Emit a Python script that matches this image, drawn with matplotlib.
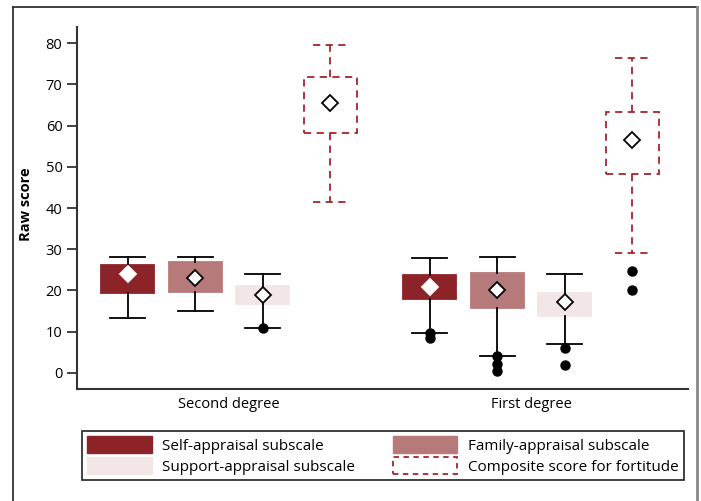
import matplotlib
matplotlib.use("Agg")
import matplotlib.pyplot as plt
from matplotlib.patches import Patch
from matplotlib.lines import Line2D

plt.rcParams['font.family'] = ['Open Sans', 'DejaVu Sans']

# Veriler (grafikten okunan tahmini değerler)
groups = ["Second degree", "First degree"]
series = ["Self-appraisal subscale", "Family-appraisal subscale",
          "Support-appraisal subscale", "Composite score for fortitude"]

# her kutu: [alt bıyık, Q1, Q3, üst bıyık, ortalama]
second_deg = [
    [13.2, 19.5, 26.1, 28.0, 23.9],
    [15.0, 19.7, 26.8, 28.0, 23.0],
    [11.0, 16.8, 21.1, 24.0, 19.0],
    [41.5, 58.3, 71.7, 79.6, 65.5],
]
first_deg = [
    [9.8, 18.0, 23.7, 27.8, 20.9],
    [4.0, 15.8, 24.2, 28.0, 20.1],
    [7.0, 13.7, 19.4, 23.9, 17.3],
    [29.2, 48.3, 63.2, 76.3, 56.5],
]
second_out = [[], [], [11.0], []]
first_out = [[9.6, 8.4], [4.0, 2.2, 0.4], [6.0, 1.9], [24.8, 20.1]]

colors = ["#8B2328", "#B77A7A", "#F2E6E6", "white"]
comp_color = "#A3262C"

fig = plt.figure(figsize=(7.01, 5.01), dpi=100)
ax = fig.add_axes([77/701, 1-389/501, 611/701, 362/501])

step = 0.2235
width = 0.175
offsets = [-1.5*step, -0.5*step, 0.5*step, 1.5*step]

for gi, (data, outs) in enumerate([(second_deg, second_out), (first_deg, first_out)]):
    center = gi + 1
    for si in range(4):
        lo, q1, q3, hi, mean = data[si]
        st = dict(whislo=lo, q1=q1, med=(q1+q3)/2, q3=q3, whishi=hi,
                  mean=mean, fliers=outs[si])
        comp = (si == 3)
        lc = comp_color if comp else "black"
        ls = (0, (4, 3)) if comp else "-"
        mec = "white" if si == 0 else "black"
        ax.bxp([st], positions=[center + offsets[si]], widths=width,
               capwidths=width*0.66, showmeans=True, patch_artist=True,
               boxprops=dict(facecolor=colors[si], edgecolor=comp_color if comp else colors[si],
                             linestyle=ls, linewidth=1.3),
               whiskerprops=dict(color=lc, linestyle=ls, linewidth=1.3),
               capprops=dict(color=lc, linestyle=ls, linewidth=1.3),
               medianprops=dict(visible=False),
               meanprops=dict(marker="D", markerfacecolor="white", markeredgecolor=mec,
                              markersize=8, markeredgewidth=1.3),
               flierprops=dict(marker="o", markerfacecolor="black",
                               markeredgecolor="black", markersize=6.5))

ax.set_xlim(0.497, 2.52)
ax.set_ylim(-3.9, 83.9)
ax.set_yticks(range(0, 81, 10))
ax.set_xticks([1, 2])
ax.set_xticklabels(groups, fontsize=10.5)
ax.tick_params(axis="x", length=0, pad=6)
ax.tick_params(axis="y", length=7, width=1.3, labelsize=10.5, color="#333333")
ax.spines["top"].set_visible(False)
ax.spines["right"].set_visible(False)
for s in ["left", "bottom"]:
    ax.spines[s].set_linewidth(1.5)
    ax.spines[s].set_color("#333333")
ax.set_ylabel("Raw score", fontsize=10.5, fontweight="bold")
ax.yaxis.set_label_coords(-0.072, 0.511)

handles = [
    Patch(facecolor=colors[0], edgecolor=colors[0]),
    Patch(facecolor=colors[2], edgecolor=colors[2]),
    Patch(facecolor=colors[1], edgecolor=colors[1]),
    Patch(facecolor="white", edgecolor=comp_color, linestyle=(0, (3, 2.5)), linewidth=1.3),
]
labels = [series[0], series[2], series[1], series[3]]
leg = fig.legend(handles, labels, ncol=2, mode="expand",
                 bbox_to_anchor=(82/701, 1-480/501, 602/701, 58/501),
                 loc="lower left", fontsize=11, frameon=True, fancybox=False,
                 handlelength=4.2, handleheight=1.25, handletextpad=0.7,
                 labelspacing=0.25, borderaxespad=0, borderpad=0.35)
leg.get_frame().set_edgecolor("black")
leg.get_frame().set_linewidth(1.3)

# dış çerçeve
fig.add_artist(Line2D([13/701, 13/701], [0, 1-7/501], transform=fig.transFigure, color="#333333", lw=1.3))
fig.add_artist(Line2D([13/701, 697/701], [1-7/501, 1-7/501], transform=fig.transFigure, color="#333333", lw=1.3))
fig.add_artist(Line2D([697/701, 697/701], [0, 1-7/501], transform=fig.transFigure, color="#888888", lw=2))

fig.savefig("out.png", dpi=100)
